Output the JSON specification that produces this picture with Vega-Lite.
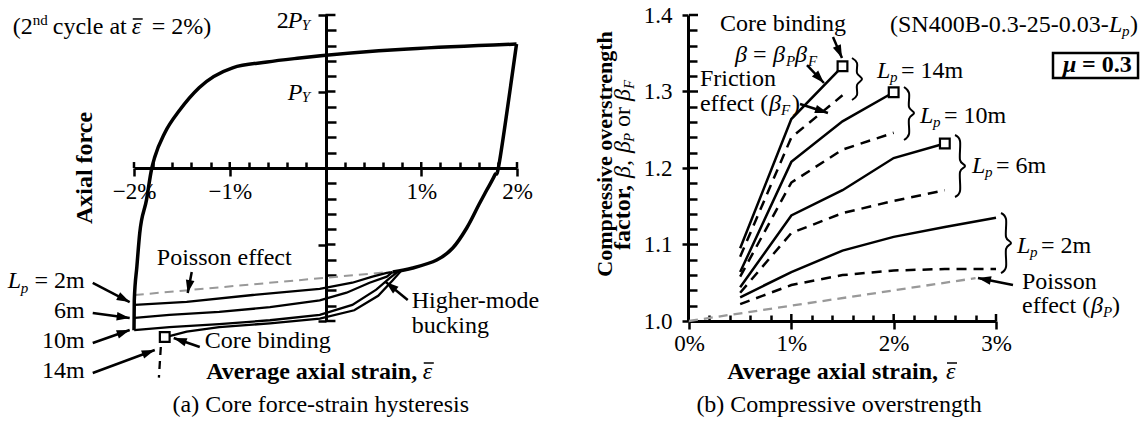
{
"$schema": "https://vega.github.io/schema/vega-lite/v6.json",
"width": 1146, "height": 424, "autosize": "none", "padding": 0,
"background": "white",
"config": {"view": {"stroke": null}, "font": "Liberation Serif",
  "axis": {"grid": false, "title": null, "domainColor": "black", "domainWidth": 3, "tickColor": "black", "tickWidth": 2.5,
    "labelFont": "Liberation Serif", "labelFontSize": 23, "labelColor": "black", "labelOverlap": false, "labelFlush": false, "labelBound": false}},
"datasets": {
  "linesL": [
    {"s":"loopA","i":0,"x":-2.0,"y":-2.12},{"s":"loopA","i":1,"x":-1.997,"y":-1.73},{"s":"loopA","i":2,"x":-1.97,"y":-1.29},{"s":"loopA","i":3,"x":-1.94,"y":-0.85},{"s":"loopA","i":4,"x":-1.87,"y":-0.42},{"s":"loopA","i":5,"x":-1.814,"y":0.0},{"s":"loopA","i":6,"x":-1.783,"y":0.144},{"s":"loopA","i":7,"x":-1.679,"y":0.458},{"s":"loopA","i":8,"x":-1.522,"y":0.758},{"s":"loopA","i":9,"x":-1.32,"y":1.05},{"s":"loopA","i":10,"x":-0.97,"y":1.31},{"s":"loopA","i":11,"x":-0.61,"y":1.386},{"s":"loopA","i":12,"x":-0.269,"y":1.438},{"s":"loopA","i":13,"x":1.995,"y":1.62},
    {"s":"loopB","i":0,"x":1.995,"y":1.62},{"s":"loopB","i":1,"x":1.82,"y":0.105},{"s":"loopB","i":2,"x":1.768,"y":-0.092},{"s":"loopB","i":3,"x":1.684,"y":-0.288},{"s":"loopB","i":4,"x":1.600,"y":-0.484},{"s":"loopB","i":5,"x":1.475,"y":-0.784},{"s":"loopB","i":6,"x":1.329,"y":-1.046},{"s":"loopB","i":7,"x":1.162,"y":-1.203},{"s":"loopB","i":8,"x":0.911,"y":-1.307},{"s":"loopB","i":9,"x":0.702,"y":-1.359},
    {"s":"2m","i":0,"x":0.70,"y":-1.36},{"s":"2m","i":1,"x":0.64,"y":-1.37},{"s":"2m","i":2,"x":0.49,"y":-1.42},{"s":"2m","i":3,"x":0.28,"y":-1.50},{"s":"2m","i":4,"x":-0.06,"y":-1.58},{"s":"2m","i":5,"x":-0.76,"y":-1.66},{"s":"2m","i":6,"x":-1.45,"y":-1.75},{"s":"2m","i":7,"x":-1.992,"y":-1.79},
    {"s":"6m","i":0,"x":0.70,"y":-1.36},{"s":"6m","i":1,"x":0.64,"y":-1.42},{"s":"6m","i":2,"x":0.46,"y":-1.50},{"s":"6m","i":3,"x":0.22,"y":-1.63},{"s":"6m","i":4,"x":-0.06,"y":-1.73},{"s":"6m","i":5,"x":-0.58,"y":-1.82},{"s":"6m","i":6,"x":-1.11,"y":-1.88},{"s":"6m","i":7,"x":-1.63,"y":-1.92},{"s":"6m","i":8,"x":-1.992,"y":-1.96},
    {"s":"10m","i":0,"x":0.76,"y":-1.35},{"s":"10m","i":1,"x":0.67,"y":-1.44},{"s":"10m","i":2,"x":0.53,"y":-1.59},{"s":"10m","i":3,"x":0.28,"y":-1.79},{"s":"10m","i":4,"x":-0.06,"y":-1.92},{"s":"10m","i":5,"x":-0.58,"y":-1.99},{"s":"10m","i":6,"x":-1.11,"y":-2.04},{"s":"10m","i":7,"x":-1.63,"y":-2.08},{"s":"10m","i":8,"x":-1.998,"y":-2.12},
    {"s":"14m","i":0,"x":0.80,"y":-1.33},{"s":"14m","i":1,"x":0.70,"y":-1.47},{"s":"14m","i":2,"x":0.55,"y":-1.67},{"s":"14m","i":3,"x":0.30,"y":-1.86},{"s":"14m","i":4,"x":-0.06,"y":-1.97},{"s":"14m","i":5,"x":-0.58,"y":-2.03},{"s":"14m","i":6,"x":-1.11,"y":-2.08},{"s":"14m","i":7,"x":-1.45,"y":-2.14},{"s":"14m","i":8,"x":-1.64,"y":-2.20},
    {"s":"14d","i":0,"x":-1.72,"y":-2.34},{"s":"14d","i":1,"x":-1.74,"y":-2.74},
    {"s":"pois","i":0,"x":-1.992,"y":-1.66},{"s":"pois","i":1,"x":0.671,"y":-1.359}
  ],
  "sqL": [{"x":-1.679,"y":-2.209}],
  "ticksL": [
    {"x":-2,"y":0,"x2":-2,"y2":0.078},{"x":-1,"y":0,"x2":-1,"y2":0.078},{"x":1,"y":0,"x2":1,"y2":0.078},{"x":2,"y":0,"x2":2,"y2":0.078},
    {"x":0,"y":-2,"x2":0.104,"y2":-2},{"x":0,"y":-1,"x2":0.104,"y2":-1},{"x":0,"y":1,"x2":0.104,"y2":1},{"x":0,"y":2,"x2":0.104,"y2":2}
  ],
  "olL": [{"x":-2.013,"y":1.948,"x2":-1.909,"y2":1.948},{"x":1.026,"y":-2.549,"x2":1.131,"y2":-2.549}],
  "arrowsL": [
    {"x0":-1.397,"y0":-1.359,"x":-1.439,"y":-1.634},
    {"x0":-2.431,"y0":-1.503,"x":-2.045,"y":-1.752},
    {"x0":-2.431,"y0":-1.895,"x":-2.045,"y":-1.961},
    {"x0":-2.431,"y0":-2.288,"x":-2.045,"y":-2.118},
    {"x0":-2.431,"y0":-2.680,"x":-1.783,"y":-2.379},
    {"x0":-1.313,"y0":-2.340,"x":-1.585,"y":-2.222},
    {"x0":0.859,"y0":-1.725,"x":0.629,"y":-1.490}
  ],
  "tL": [
    {"x":-3.266,"y":1.752,"t":"(2"},{"x":-2.848,"y":1.752,"t":"cycle at"},{"x":-1.814,"y":1.752,"t":"= 2%)"},
    {"x":-0.509,"y":1.830,"t":"2"},{"x":-1.762,"y":-1.268,"t":"Poisson effect"},{"x":-1.261,"y":-2.353,"t":"Core binding"},
    {"x":0.900,"y":-1.830,"t":"Higher-mode"},{"x":0.900,"y":-2.157,"t":"bucking"}
  ],
  "tLr": [
    {"x":-2.514,"y":-1.569,"t":"= 2m"},{"x":-2.514,"y":-1.961,"t":"6m"},{"x":-2.514,"y":-2.353,"t":"10m"},{"x":-2.514,"y":-2.745,"t":"14m"}
  ],
  "tLi": [
    {"x":-2.0235,"y":1.752,"t":"\u03b5"},
    {"x":-0.394,"y":1.830,"t":"P"},{"x":-0.394,"y":0.889,"t":"P"},{"x":-3.319,"y":-1.569,"t":"L"},
    {"x":1.016,"y":-2.758,"t":"\u03b5"}
  ],
  "tLs": [
    {"x":-0.248,"y":1.804,"t":"Y"},{"x":-0.248,"y":0.863,"t":"Y"},{"x":-3.183,"y":-1.634,"t":"p"}
  ],
  "tLsup": [{"x":-3.057,"y":1.869,"t":"nd"}],
  "tLb": [{"x":0.957,"y":-2.758,"t":"Average axial strain,"}],
  "tLrot": [{"x":-2.441,"y":0,"t":"Axial force"}],
  "tLcap": [{"x":-0.049,"y":-3.190,"t":"(a) Core force-strain hysteresis"}],
  "linesR": [
    {"s":"14m","k":"beta","x":0.5,"y":1.095},{"s":"14m","k":"beta","x":1.0,"y":1.264},{"s":"14m","k":"beta","x":1.5,"y":1.333},
    {"s":"10m","k":"beta","x":0.5,"y":1.064},{"s":"10m","k":"beta","x":1.0,"y":1.208},{"s":"10m","k":"beta","x":1.5,"y":1.261},{"s":"10m","k":"beta","x":2.0,"y":1.299},
    {"s":"6m","k":"beta","x":0.5,"y":1.044},{"s":"6m","k":"beta","x":1.0,"y":1.138},{"s":"6m","k":"beta","x":1.5,"y":1.171},{"s":"6m","k":"beta","x":2.0,"y":1.213},{"s":"6m","k":"beta","x":2.5,"y":1.232},
    {"s":"2m","k":"beta","x":0.5,"y":1.031},{"s":"2m","k":"beta","x":1.0,"y":1.064},{"s":"2m","k":"beta","x":1.5,"y":1.092},{"s":"2m","k":"beta","x":2.0,"y":1.110},{"s":"2m","k":"beta","x":2.5,"y":1.123},{"s":"2m","k":"beta","x":3.0,"y":1.135},
    {"s":"14m","k":"betaF","x":0.5,"y":1.084},{"s":"14m","k":"betaF","x":1.0,"y":1.240},{"s":"14m","k":"betaF","x":1.5,"y":1.295},
    {"s":"10m","k":"betaF","x":0.5,"y":1.058},{"s":"10m","k":"betaF","x":1.0,"y":1.181},{"s":"10m","k":"betaF","x":1.5,"y":1.224},{"s":"10m","k":"betaF","x":2.0,"y":1.246},
    {"s":"6m","k":"betaF","x":0.5,"y":1.037},{"s":"6m","k":"betaF","x":1.0,"y":1.115},{"s":"6m","k":"betaF","x":1.5,"y":1.141},{"s":"6m","k":"betaF","x":2.0,"y":1.157},{"s":"6m","k":"betaF","x":2.5,"y":1.171},
    {"s":"2m","k":"betaF","x":0.5,"y":1.022},{"s":"2m","k":"betaF","x":1.0,"y":1.047},{"s":"2m","k":"betaF","x":1.5,"y":1.060},{"s":"2m","k":"betaF","x":2.0,"y":1.066},{"s":"2m","k":"betaF","x":2.5,"y":1.068},{"s":"2m","k":"betaF","x":3.0,"y":1.068},
    {"s":"pois","k":"betaP","x":0.0,"y":1.0},{"s":"pois","k":"betaP","x":2.8,"y":1.056}
  ],
  "sqR": [{"x":1.5,"y":1.333},{"x":2.0,"y":1.299},{"x":2.5,"y":1.232}],
  "ticksR": [
    {"x":1,"y":1.0,"x2":1,"y2":1.00915},{"x":2,"y":1.0,"x2":2,"y2":1.00915},{"x":3,"y":1.0,"x2":3,"y2":1.00915},
    {"x":0,"y":1.1,"x2":0.088,"y2":1.1},{"x":0,"y":1.2,"x2":0.088,"y2":1.2},{"x":0,"y":1.3,"x2":0.088,"y2":1.3},{"x":0,"y":1.4,"x2":0.088,"y2":1.4}
  ],
  "olR": [{"x":2.521,"y":0.9451,"x2":2.619,"y2":0.9451}],
  "bracesR": [
    {"b":"14m","i":0,"x":1.5929,"y":1.3438},{"b":"14m","i":1,"x":1.6417,"y":1.3373},{"b":"14m","i":2,"x":1.6417,"y":1.3242},{"b":"14m","i":3,"x":1.6906,"y":1.3163},{"b":"14m","i":4,"x":1.6417,"y":1.3085},{"b":"14m","i":5,"x":1.6417,"y":1.2954},{"b":"14m","i":6,"x":1.5929,"y":1.2889},
    {"b":"10m","i":0,"x":2.1010,"y":1.3059},{"b":"10m","i":1,"x":2.1499,"y":1.2980},{"b":"10m","i":2,"x":2.1499,"y":1.2797},{"b":"10m","i":3,"x":2.1988,"y":1.2719},{"b":"10m","i":4,"x":2.1499,"y":1.2641},{"b":"10m","i":5,"x":2.1499,"y":1.2444},{"b":"10m","i":6,"x":2.1010,"y":1.2366},
    {"b":"6m","i":0,"x":2.5994,"y":1.2431},{"b":"6m","i":1,"x":2.6483,"y":1.2353},{"b":"6m","i":2,"x":2.6483,"y":1.2105},{"b":"6m","i":3,"x":2.6972,"y":1.2026},{"b":"6m","i":4,"x":2.6483,"y":1.1948},{"b":"6m","i":5,"x":2.6483,"y":1.1699},{"b":"6m","i":6,"x":2.5994,"y":1.1621},
    {"b":"2m","i":0,"x":3.0490,"y":1.1412},{"b":"2m","i":1,"x":3.0978,"y":1.1333},{"b":"2m","i":2,"x":3.0978,"y":1.1098},{"b":"2m","i":3,"x":3.1467,"y":1.1020},{"b":"2m","i":4,"x":3.0978,"y":1.0941},{"b":"2m","i":5,"x":3.0978,"y":1.0706},{"b":"2m","i":6,"x":3.0490,"y":1.0627}
  ],
  "boxR": [{"x":3.557,"y":1.3503,"x2":4.388,"y2":1.3176}],
  "arrowsR": [
    {"x0":1.407,"y0":1.3712,"x":1.495,"y":1.3438},
    {"x0":1.153,"y0":1.3346,"x":1.319,"y":1.3111},
    {"x0":1.085,"y0":1.2837,"x":1.358,"y":1.2719},
    {"x0":3.166,"y0":1.0471,"x":2.824,"y":1.0562}
  ],
  "tR": [
    {"x":0.303,"y":1.379,"t":"Core binding"},{"x":0.6254,"y":1.3386,"t":"="},{"x":0.107,"y":1.3072,"t":"Friction"},
    {"x":0.107,"y":1.2745,"t":"effect ("},{"x":1.007,"y":1.2745,"t":")"},{"x":1.964,"y":1.3778,"t":"(SN400B-0.3-25-0.03-"},
    {"x":4.309,"y":1.3778,"t":")"},{"x":2.072,"y":1.3176,"t":"= 14m"},{"x":2.492,"y":1.2588,"t":"= 10m"},
    {"x":3.000,"y":1.1935,"t":"= 6m"},{"x":3.440,"y":1.0889,"t":"= 2m"},{"x":3.254,"y":1.0418,"t":"Poisson"},
    {"x":3.254,"y":1.0105,"t":"effect ("},{"x":4.134,"y":1.0105,"t":")"}
  ],
  "tRi": [
    {"x":0.4495,"y":1.3386,"t":"\u03b2"},{"x":0.8209,"y":1.3386,"t":"\u03b2"},{"x":1.0359,"y":1.3386,"t":"\u03b2"},{"x":0.782,"y":1.2745,"t":"\u03b2"},
    {"x":4.104,"y":1.3778,"t":"L"},{"x":1.837,"y":1.3176,"t":"L"},{"x":2.257,"y":1.2588,"t":"L"},{"x":2.766,"y":1.1935,"t":"L"},{"x":3.205,"y":1.0889,"t":"L"},
    {"x":3.928,"y":1.0105,"t":"\u03b2"},{"x":2.511,"y":0.9242,"t":"\u03b5"}
  ],
  "tRs": [
    {"x":0.9479,"y":1.3333,"t":"P"},{"x":1.1629,"y":1.3333,"t":"F"},{"x":0.899,"y":1.2693,"t":"F"},{"x":4.231,"y":1.3725,"t":"p"},
    {"x":1.964,"y":1.3124,"t":"p"},{"x":2.384,"y":1.2536,"t":"p"},{"x":2.893,"y":1.1882,"t":"p"},{"x":3.332,"y":1.0837,"t":"p"},{"x":4.046,"y":1.0052,"t":"P"}
  ],
  "tRb": [{"x":3.840,"y":1.3255,"t":"= 0.3"}],
  "tRbr": [{"x":2.433,"y":0.9242,"t":"Average axial strain,"}],
  "tRbi": [{"x":3.655,"y":1.3255,"t":"\u03bc"}],
  "tRcap": [{"x":1.466,"y":0.881,"t":"(b) Compressive overstrength"}],
  "ytB1": [{"x":-0.752,"y":1.2183,"t":"Compressive overstrength"}],
  "ytB2": [{"x":-0.5766,"y":1.0928,"t":"factor,"}],
  "ytI": [{"x":-0.5766,"y":1.1869,"t":"\u03b2,"},{"x":-0.5766,"y":1.2196,"t":"\u03b2"},{"x":-0.5766,"y":1.2876,"t":"\u03b2"}],
  "ytR": [{"x":-0.5766,"y":1.2536,"t":"or"}],
  "ytS": [{"x":-0.5375,"y":1.2340,"t":"P"},{"x":-0.5375,"y":1.3033,"t":"F"}]
},
"resolve": {"scale": {"x": "independent", "y": "independent"}},
"layer": [
  {
    "encoding": {
      "x": {"field": "x", "type": "quantitative",
        "scale": {"domain": [-2, 2], "range": [134, 517], "nice": false, "zero": false},
        "axis": {"orient": "bottom", "offset": -256,
          "values": [-2,-1.8,-1.6,-1.4,-1.2,-1,-0.8,-0.6,-0.4,-0.2,0,0.2,0.4,0.6,0.8,1,1.2,1.4,1.6,1.8,2],
          "labelExpr": "(datum.value == 1 || datum.value == 2) ? datum.value + '%' : ((datum.value == -1 || datum.value == -2) ? '\u2212' + (-datum.value) + '%' : '')",
          "tickSize": {"condition": {"test": "abs(datum.value) == 1 || abs(datum.value) == 2", "value": 8}, "value": -6},
          "labelPadding": 4}},
      "y": {"field": "y", "type": "quantitative",
        "scale": {"domain": [-2, 2], "range": [321, 15], "nice": false, "zero": false},
        "axis": {"orient": "left", "offset": -326, "labels": false,
          "values": [-2,-1.8,-1.6,-1.4,-1.2,-1,-0.8,-0.6,-0.4,-0.2,0,0.2,0.4,0.6,0.8,1,1.2,1.4,1.6,1.8,2],
          "tickSize": {"condition": {"test": "abs(datum.value) == 1 || abs(datum.value) == 2", "value": 8}, "value": -10}}}
    },
    "layer": [
      {"data": {"name": "ticksL"},
       "mark": {"type": "rule", "color": "black", "strokeWidth": 2.5, "clip": false},
       "encoding": {"x2": {"field": "x2"}, "y2": {"field": "y2"}}},
      {"data": {"name": "linesL"}, "transform": [{"filter": "datum.s == 'pois'"}],
       "mark": {"type": "line", "color": "#999999", "strokeWidth": 2, "strokeDash": [9, 6], "clip": false},
       "encoding": {"detail": {"field": "s"}, "order": {"field": "i", "type": "quantitative"}}},
      {"data": {"name": "linesL"}, "transform": [{"filter": "datum.s == 'loopA'"}],
       "mark": {"type": "line", "color": "black", "strokeWidth": 3.5, "interpolate": "monotone", "clip": false},
       "encoding": {"detail": {"field": "s"}, "order": {"field": "i", "type": "quantitative"}}},
      {"data": {"name": "linesL"}, "transform": [{"filter": "datum.s == 'loopB'"}],
       "mark": {"type": "line", "color": "black", "strokeWidth": 3.5, "interpolate": "cardinal", "clip": false},
       "encoding": {"detail": {"field": "s"}, "order": {"field": "i", "type": "quantitative"}}},
      {"data": {"name": "linesL"}, "transform": [{"filter": "datum.s == '2m' || datum.s == '6m' || datum.s == '10m' || datum.s == '14m'"}],
       "mark": {"type": "line", "color": "black", "strokeWidth": 2.3, "clip": false},
       "encoding": {"detail": {"field": "s"}, "order": {"field": "i", "type": "quantitative"}}},
      {"data": {"name": "linesL"}, "transform": [{"filter": "datum.s == '14d'"}],
       "mark": {"type": "line", "color": "black", "strokeWidth": 2.3, "strokeDash": [8, 6], "clip": false},
       "encoding": {"detail": {"field": "s"}, "order": {"field": "i", "type": "quantitative"}}},
      {"data": {"name": "sqL"},
       "mark": {"type": "point", "shape": "square", "size": 95, "filled": true, "fill": "white", "stroke": "black", "strokeWidth": 2.2, "opacity": 1, "clip": false}},
      {"data": {"name": "arrowsL"},
       "mark": {"type": "rule", "color": "black", "strokeWidth": 2.5, "clip": false},
       "encoding": {"x2": {"field": "x0"}, "y2": {"field": "y0"}}},
      {"data": {"name": "arrowsL"},
       "transform": [{"calculate": "atan2((datum.x - datum.x0) * 95.75, (datum.y - datum.y0) * 76.5) * 180 / PI", "as": "ang"}],
       "mark": {"type": "point", "shape": "M0,0L0.5,1.5L-0.5,1.5Z", "size": 300, "filled": true, "color": "black", "strokeWidth": 0, "opacity": 1, "clip": false},
       "encoding": {"angle": {"field": "ang", "type": "quantitative", "scale": null}}},
      {"data": {"name": "olL"},
       "mark": {"type": "rule", "color": "black", "strokeWidth": 1.5, "clip": false},
       "encoding": {"x2": {"field": "x2"}, "y2": {"field": "y2"}}},
      {"data": {"name": "tL"},
       "mark": {"type": "text", "font": "Liberation Serif", "fontSize": 24, "align": "left", "baseline": "alphabetic", "color": "black", "clip": false},
       "encoding": {"text": {"field": "t"}}},
      {"data": {"name": "tLr"},
       "mark": {"type": "text", "font": "Liberation Serif", "fontSize": 24, "align": "right", "baseline": "alphabetic", "color": "black", "clip": false},
       "encoding": {"text": {"field": "t"}}},
      {"data": {"name": "tLi"},
       "mark": {"type": "text", "font": "Liberation Serif", "fontSize": 24, "fontStyle": "italic", "align": "left", "baseline": "alphabetic", "color": "black", "clip": false},
       "encoding": {"text": {"field": "t"}}},
      {"data": {"name": "tLs"},
       "mark": {"type": "text", "font": "Liberation Serif", "fontSize": 15, "fontStyle": "italic", "align": "left", "baseline": "alphabetic", "color": "black", "clip": false},
       "encoding": {"text": {"field": "t"}}},
      {"data": {"name": "tLsup"},
       "mark": {"type": "text", "font": "Liberation Serif", "fontSize": 15, "align": "left", "baseline": "alphabetic", "color": "black", "clip": false},
       "encoding": {"text": {"field": "t"}}},
      {"data": {"name": "tLb"},
       "mark": {"type": "text", "font": "Liberation Serif", "fontSize": 24, "fontWeight": "bold", "align": "right", "baseline": "alphabetic", "color": "black", "clip": false},
       "encoding": {"text": {"field": "t"}}},
      {"data": {"name": "tLrot"},
       "mark": {"type": "text", "font": "Liberation Serif", "fontSize": 24, "fontWeight": "bold", "angle": 270, "align": "center", "baseline": "alphabetic", "color": "black", "clip": false},
       "encoding": {"text": {"field": "t"}}},
      {"data": {"name": "tLcap"},
       "mark": {"type": "text", "font": "Liberation Serif", "fontSize": 24, "align": "center", "baseline": "alphabetic", "color": "black", "clip": false},
       "encoding": {"text": {"field": "t"}}}
    ]
  },
  {
    "encoding": {
      "x": {"field": "x", "type": "quantitative",
        "scale": {"domain": [0, 3], "range": [689, 996], "nice": false, "zero": false},
        "axis": {"orient": "bottom", "offset": -103,
          "values": [0,0.2,0.4,0.6,0.8,1,1.2,1.4,1.6,1.8,2,2.2,2.4,2.6,2.8,3],
          "labelExpr": "(datum.value == 0 || datum.value == 1 || datum.value == 2 || datum.value == 3) ? datum.value + '%' : ''",
          "tickSize": {"condition": {"test": "datum.value == 0 || datum.value == 1 || datum.value == 2 || datum.value == 3", "value": 8}, "value": -6},
          "labelPadding": 3}},
      "y": {"field": "y", "type": "quantitative",
        "scale": {"domain": [1.0, 1.4], "range": [321, 15], "nice": false, "zero": false},
        "axis": {"orient": "left", "offset": -688,
          "values": [1.0,1.02,1.04,1.06,1.08,1.1,1.12,1.14,1.16,1.18,1.2,1.22,1.24,1.26,1.28,1.3,1.32,1.34,1.36,1.38,1.4],
          "labelExpr": "round(datum.value * 100) % 10 == 0 ? format(datum.value, '.1f') : ''",
          "tickSize": {"condition": {"test": "round(datum.value * 100) % 10 == 0", "value": 6}, "value": -9},
          "labelPadding": 10}}
    },
    "layer": [
      {"data": {"name": "ticksR"},
       "mark": {"type": "rule", "color": "black", "strokeWidth": 2.5, "clip": false},
       "encoding": {"x2": {"field": "x2"}, "y2": {"field": "y2"}}},
      {"data": {"name": "linesR"}, "transform": [{"filter": "datum.k == 'betaP'"}],
       "mark": {"type": "line", "color": "#999999", "strokeWidth": 2.3, "strokeDash": [9, 6], "clip": false},
       "encoding": {"detail": {"field": "s"}}},
      {"data": {"name": "linesR"}, "transform": [{"filter": "datum.k == 'betaF'"}],
       "mark": {"type": "line", "color": "black", "strokeWidth": 2.5, "strokeDash": [10, 7], "clip": false},
       "encoding": {"detail": {"field": "s"}}},
      {"data": {"name": "linesR"}, "transform": [{"filter": "datum.k == 'beta'"}],
       "mark": {"type": "line", "color": "black", "strokeWidth": 2.5, "clip": false},
       "encoding": {"detail": {"field": "s"}}},
      {"data": {"name": "sqR"},
       "mark": {"type": "point", "shape": "square", "size": 95, "filled": true, "fill": "white", "stroke": "black", "strokeWidth": 2.2, "opacity": 1, "clip": false}},
      {"data": {"name": "bracesR"},
       "mark": {"type": "line", "color": "black", "strokeWidth": 2, "interpolate": "cardinal", "clip": false},
       "encoding": {"detail": {"field": "b"}, "order": {"field": "i", "type": "quantitative"}}},
      {"data": {"name": "boxR"},
       "mark": {"type": "rect", "fill": "transparent", "stroke": "black", "strokeWidth": 2.5, "clip": false},
       "encoding": {"x2": {"field": "x2"}, "y2": {"field": "y2"}}},
      {"data": {"name": "arrowsR"},
       "mark": {"type": "rule", "color": "black", "strokeWidth": 2.5, "clip": false},
       "encoding": {"x2": {"field": "x0"}, "y2": {"field": "y0"}}},
      {"data": {"name": "arrowsR"},
       "transform": [{"calculate": "atan2((datum.x - datum.x0) * 102.33, (datum.y - datum.y0) * 765) * 180 / PI", "as": "ang"}],
       "mark": {"type": "point", "shape": "M0,0L0.5,1.5L-0.5,1.5Z", "size": 300, "filled": true, "color": "black", "strokeWidth": 0, "opacity": 1, "clip": false},
       "encoding": {"angle": {"field": "ang", "type": "quantitative", "scale": null}}},
      {"data": {"name": "olR"},
       "mark": {"type": "rule", "color": "black", "strokeWidth": 1.5, "clip": false},
       "encoding": {"x2": {"field": "x2"}, "y2": {"field": "y2"}}},
      {"data": {"name": "tR"},
       "mark": {"type": "text", "font": "Liberation Serif", "fontSize": 24, "align": "left", "baseline": "alphabetic", "color": "black", "clip": false},
       "encoding": {"text": {"field": "t"}}},
      {"data": {"name": "tRi"},
       "mark": {"type": "text", "font": "Liberation Serif", "fontSize": 24, "fontStyle": "italic", "align": "left", "baseline": "alphabetic", "color": "black", "clip": false},
       "encoding": {"text": {"field": "t"}}},
      {"data": {"name": "tRs"},
       "mark": {"type": "text", "font": "Liberation Serif", "fontSize": 15, "fontStyle": "italic", "align": "left", "baseline": "alphabetic", "color": "black", "clip": false},
       "encoding": {"text": {"field": "t"}}},
      {"data": {"name": "tRb"},
       "mark": {"type": "text", "font": "Liberation Serif", "fontSize": 24, "fontWeight": "bold", "align": "left", "baseline": "alphabetic", "color": "black", "clip": false},
       "encoding": {"text": {"field": "t"}}},
      {"data": {"name": "tRbr"},
       "mark": {"type": "text", "font": "Liberation Serif", "fontSize": 24, "fontWeight": "bold", "align": "right", "baseline": "alphabetic", "color": "black", "clip": false},
       "encoding": {"text": {"field": "t"}}},
      {"data": {"name": "tRbi"},
       "mark": {"type": "text", "font": "Liberation Serif", "fontSize": 24, "fontWeight": "bold", "fontStyle": "italic", "align": "left", "baseline": "alphabetic", "color": "black", "clip": false},
       "encoding": {"text": {"field": "t"}}},
      {"data": {"name": "tRcap"},
       "mark": {"type": "text", "font": "Liberation Serif", "fontSize": 24, "align": "center", "baseline": "alphabetic", "color": "black", "clip": false},
       "encoding": {"text": {"field": "t"}}},
      {"data": {"name": "ytB1"},
       "mark": {"type": "text", "font": "Liberation Serif", "fontSize": 22, "fontWeight": "bold", "angle": 270, "align": "center", "baseline": "alphabetic", "color": "black", "clip": false},
       "encoding": {"text": {"field": "t"}}},
      {"data": {"name": "ytB2"},
       "mark": {"type": "text", "font": "Liberation Serif", "fontSize": 24, "fontWeight": "bold", "angle": 270, "align": "left", "baseline": "alphabetic", "color": "black", "clip": false},
       "encoding": {"text": {"field": "t"}}},
      {"data": {"name": "ytI"},
       "mark": {"type": "text", "font": "Liberation Serif", "fontSize": 24, "fontStyle": "italic", "angle": 270, "align": "left", "baseline": "alphabetic", "color": "black", "clip": false},
       "encoding": {"text": {"field": "t"}}},
      {"data": {"name": "ytR"},
       "mark": {"type": "text", "font": "Liberation Serif", "fontSize": 24, "angle": 270, "align": "left", "baseline": "alphabetic", "color": "black", "clip": false},
       "encoding": {"text": {"field": "t"}}},
      {"data": {"name": "ytS"},
       "mark": {"type": "text", "font": "Liberation Serif", "fontSize": 15, "fontStyle": "italic", "angle": 270, "align": "left", "baseline": "alphabetic", "color": "black", "clip": false},
       "encoding": {"text": {"field": "t"}}}
    ]
  }
]
}
